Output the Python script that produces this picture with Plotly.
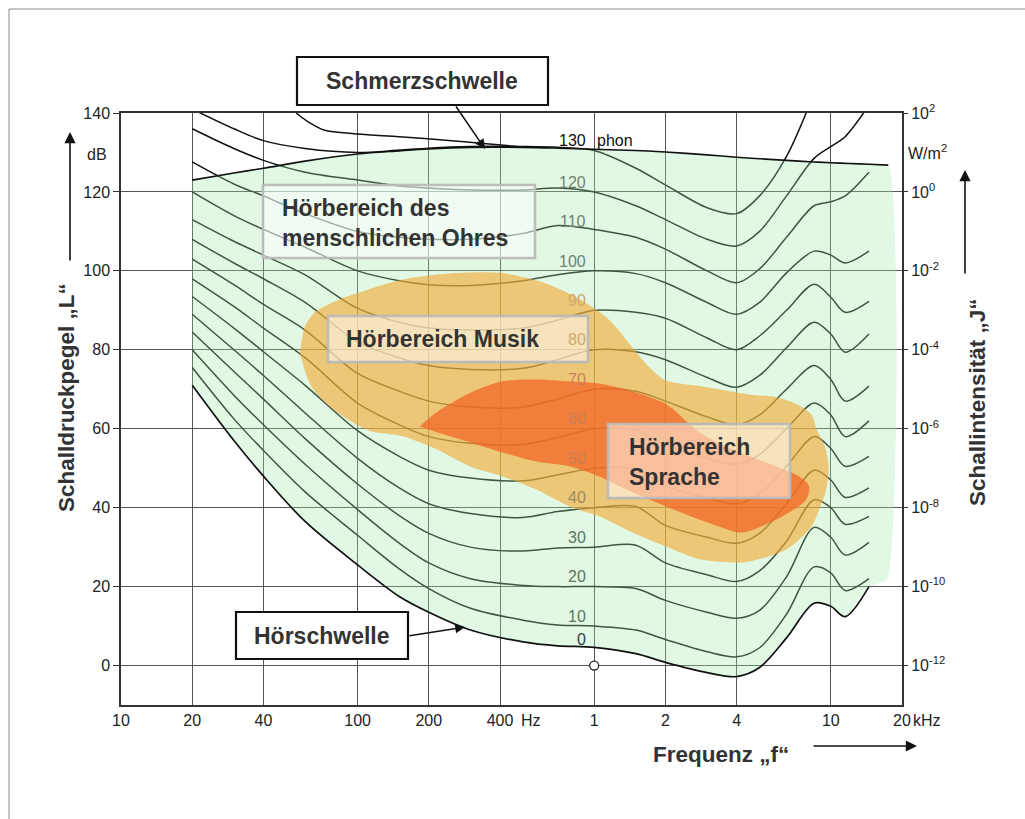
import plotly.graph_objects as go

# ---------------- data ----------------
freqs_hz = [20, 30, 40, 60, 100, 150, 200, 300, 500, 700, 1000, 1500, 2000,
            3000, 4000, 5000, 6500, 8500, 10000, 11500, 14500]

phon_0 = [71, 57, 48, 36.5, 25.5, 17.5, 13.5, 9, 6, 5, 4.6, 3, 0.8, -1.8, -2.8, -0.5, 7, 15.8, 15, 12.4, 20]
phon_10 = [75.5, 62.5, 54.5, 44, 33, 24.5, 19.5, 14.5, 11.5, 10.3, 10, 9, 6.6, 3.5, 2.2, 4.5, 13, 25, 23.5, 19, 22]
phon_20 = [80, 68.5, 61, 51, 39.5, 31, 26, 22, 20.3, 20, 20, 19.5, 16.5, 13.5, 12, 14, 22.5, 35, 32.5, 28, 31.2]
phon_30 = [84.5, 74.5, 67.5, 57.5, 46, 38, 33.5, 30, 29, 29.8, 30, 30.5, 26, 23, 21.3, 24, 31.5, 42, 40, 35.8, 37.8]
phon_40 = [89, 80, 73.5, 64, 52.5, 45, 41, 38.5, 37.5, 39, 40, 40.3, 35.5, 32.5, 31, 33.5, 41, 49.5, 47, 42.6, 45]
phon_50 = [93.5, 85.5, 79.5, 71, 59.5, 53, 49.5, 47.5, 46.8, 48.3, 50, 49.8, 45.5, 42.5, 41, 43.5, 50.5, 58, 55, 50.5, 53]
phon_60 = [98, 91, 85.5, 78, 66.5, 61, 58, 56.3, 56, 57.8, 60, 59.7, 56, 52.5, 51, 53.5, 60, 66.5, 63.5, 58, 62]
phon_70 = [103, 96.5, 91.5, 85, 74, 69.5, 67, 65.5, 65.5, 67.5, 70, 69.5, 67, 63, 61, 63.5, 70, 76, 72.5, 67, 70.8]
phon_80 = [108, 102, 98, 92, 82, 78, 76, 75, 75.3, 77.5, 80, 79.5, 77.5, 73, 70.5, 73.5, 80.5, 87, 84, 79.4, 84]
phon_90 = [113, 107.5, 104, 99, 90.5, 87, 85.5, 85, 85.5, 87.5, 90, 89.5, 88, 83, 80, 83.5, 90, 96.6, 93.3, 89.5, 92.3]
phon_100 = [120, 114, 110.5, 106, 100, 97.5, 96.5, 96.3, 97.5, 99, 100, 99.3, 97, 92, 89, 92, 99.5, 105, 104, 102, 105]
phon_110 = [127.6, 122, 119, 114.5, 110, 108.5, 108, 108, 109.5, 111.5, 110.5, 108.5, 105.5, 100, 97, 100.5, 108.5, 116.5, 117.5, 119, 125]
phon_120 = [136, 131, 128, 125, 123, 121.5, 121, 120.5, 120.5, 121, 120, 116.5, 113, 108, 106.3, 110, 119, 128.5, 131.5, 134, 142]
phon_130 = [141, 136, 133, 131, 130, 130.6, 131.1, 131.5, 131.5, 131.3, 130.5, 126, 121.8, 116, 114.5, 119, 129, 145, None, None, None]

upper_f = [55, 62, 72, 100, 150, 250, 350, 500]
upper_db = [140, 137.7, 135.7, 134.7, 134, 133, 132.2, 131.4]

pain_f = [20, 30, 40, 60, 100, 150, 200, 300, 500, 700, 1000, 1500, 2000, 3000,
          4000, 5000, 6500, 8500, 10000, 12000, 14500, 17500]
pain_db = [123, 124.8, 126, 127.8, 129.6, 130.4, 130.9, 131.3, 131.3, 131.1, 130.8,
           130.5, 130.1, 129.4, 128.8, 128.4, 128.0, 127.6, 127.4, 127.2, 127.0, 126.8]
region_edge_f = 17300
region_edge_bottom_db = 22

musik_f = [57, 60, 66, 76, 90, 105, 155, 250, 400, 600, 800, 1000, 1160, 1280, 1450,
           1710, 2000, 2800, 4500, 5900, 7300, 8300, 8700, 9500, 9800, 9600, 9000, 8300,
           6500, 5000, 4200, 2800, 2000, 1450, 1050, 785, 570, 410, 297, 216, 155, 112,
           90, 75, 64, 60]
musik_db = [79, 86, 89.5, 91.6, 93.5, 94.8, 97.8, 99.4, 99.5, 97.2, 94, 90.5, 87.5, 84.7,
            80.6, 75.6, 72.3, 70.8, 68.7, 68, 66, 63.5, 60, 55, 50.5, 45, 40, 35.3, 29.4,
            27, 26.1, 26.9, 30.2, 33.7, 37.8, 40.3, 44.6, 47.9, 50.5, 54.8, 58.1, 59.5,
            62.5, 66, 70.5, 74.5]

sprache_f = [183, 216, 297, 410, 570, 785, 1090, 1450, 2017, 2780, 3820, 5300, 7350,
             8100, 7880, 6250, 4500, 4100, 2780, 2017, 1450, 1050, 785, 570, 410, 297, 216]
sprache_db = [60.6, 64.2, 69, 72, 72.5, 72, 71.3, 69.5, 66.2, 59.1, 54.8, 51.5, 47.9,
              45.4, 42.1, 37.8, 34, 33.7, 37, 40.3, 43.9, 47.9, 50.5, 51.7, 54, 56.6, 59.1]

x_tick_vals = [10, 20, 40, 100, 200, 400, 1000, 2000, 4000, 10000, 20000]
x_tick_text = ["10", "20", "40", "100", "200", "400", "1", "2", "4", "10", "20"]
y_tick_vals = [0, 20, 40, 60, 80, 100, 120, 140]
y_tick_text = ["0", "20", "40", "60", "80", "100", "120", "140"]
intensity_text = ["10<sup>-12</sup>", "10<sup>-10</sup>", "10<sup>-8</sup>", "10<sup>-6</sup>",
                  "10<sup>-4</sup>", "10<sup>-2</sup>", "10<sup>0</sup>", "10<sup>2</sup>"]

contour_series = [phon_10, phon_20, phon_30, phon_40, phon_50, phon_60, phon_70,
                  phon_80, phon_90, phon_100, phon_110, phon_120, phon_130]
label_levels = [0, 10, 20, 30, 40, 50, 60, 70, 80, 90, 100, 110, 120]
label_colors = ["#3a3a3a", "#5d7560", "#5d7560", "#5d7560", "#9a8a60", "#c98058",
                "#c98058", "#c98058", "#cfa868", "#cfa868", "#728272", "#728272", "#728272"]

# ---------------- figure ----------------
W, H = 1025, 819
L, R, T, B = 121, 123, 113, 114
PW, PH = W - L - R, H - T - B


def px(xp):
    return (xp - L) / PW


def py(yp):
    return (H - B - yp) / PH


fig = go.Figure()

# contour lines (below the coloured overlays)
for series in contour_series:
    fig.add_trace(go.Scatter(x=freqs_hz, y=series, mode="lines",
                             line=dict(color="#111111", width=1.5, shape="spline", smoothing=0.9),
                             hoverinfo="skip", showlegend=False))
fig.add_trace(go.Scatter(x=upper_f, y=upper_db, mode="lines",
                         line=dict(color="#111111", width=1.5, shape="spline", smoothing=0.9),
                         hoverinfo="skip", showlegend=False))

# hearing area (semi transparent green)
region_x = pain_f + [region_edge_f] + freqs_hz[::-1]
region_y = pain_db + [region_edge_bottom_db] + phon_0[::-1]
fig.add_trace(go.Scatter(x=region_x, y=region_y, mode="lines", fill="toself",
                         fillcolor="rgba(160,232,172,0.32)",
                         line=dict(width=0, shape="spline", smoothing=0.5),
                         hoverinfo="skip", showlegend=False))
# music
fig.add_trace(go.Scatter(x=musik_f, y=musik_db, mode="lines", fill="toself",
                         fillcolor="rgba(244,170,52,0.62)",
                         line=dict(width=0, shape="spline", smoothing=0.8),
                         hoverinfo="skip", showlegend=False))
# speech
fig.add_trace(go.Scatter(x=sprache_f, y=sprache_db, mode="lines", fill="toself",
                         fillcolor="rgba(242,98,34,0.72)",
                         line=dict(width=0, shape="spline", smoothing=0.8),
                         hoverinfo="skip", showlegend=False))

# pain threshold and hearing threshold on top
fig.add_trace(go.Scatter(x=pain_f, y=pain_db, mode="lines",
                         line=dict(color="#111111", width=1.6, shape="spline", smoothing=0.9),
                         hoverinfo="skip", showlegend=False))
fig.add_trace(go.Scatter(x=freqs_hz, y=phon_0, mode="lines",
                         line=dict(color="#111111", width=1.7, shape="spline", smoothing=0.9),
                         hoverinfo="skip", showlegend=False))
# reference point 1 kHz / 0 dB
fig.add_trace(go.Scatter(x=[1000], y=[0], mode="markers",
                         marker=dict(symbol="circle", size=9, color="white",
                                     line=dict(color="#222222", width=1.3)),
                         hoverinfo="skip", showlegend=False))
# dummy trace for right axis
fig.add_trace(go.Scatter(x=[1000], y=[0], yaxis="y2", mode="markers",
                         marker=dict(opacity=0), hoverinfo="skip", showlegend=False))

tick_font = dict(family="Liberation Sans, Arial, sans-serif", size=16, color="#222222")
fig.update_layout(
    width=W, height=H, autosize=False,
    margin=dict(l=L, r=R, t=T, b=B),
    paper_bgcolor="white", plot_bgcolor="white",
    showlegend=False,
    xaxis=dict(type="log", range=[1, 4.30103], tickvals=x_tick_vals, ticktext=x_tick_text,
               showgrid=True, gridcolor="#555555", gridwidth=1, ticks="",
               showline=True, linecolor="#333333", linewidth=1.5, mirror=True,
               tickfont=tick_font, zeroline=False),
    yaxis=dict(range=[-10, 140], tickvals=y_tick_vals, ticktext=y_tick_text,
               showgrid=True, gridcolor="#555555", gridwidth=1,
               ticks="outside", ticklen=6, tickcolor="#333333",
               showline=True, linecolor="#333333", linewidth=1.5, mirror=True,
               tickfont=tick_font, zeroline=False),
    yaxis2=dict(range=[-10, 140], overlaying="y", side="right",
                tickvals=y_tick_vals, ticktext=intensity_text, showgrid=False,
                ticks="outside", ticklen=5, tickcolor="#333333",
                tickfont=tick_font, zeroline=False, showline=False),
)

shapes = []
# outer border (top and left)
shapes.append(dict(type="line", xref="paper", yref="paper", x0=px(9), x1=px(1025),
                   y0=py(9), y1=py(9), line=dict(color="#8a8a8a", width=1)))
shapes.append(dict(type="line", xref="paper", yref="paper", x0=px(9), x1=px(9),
                   y0=py(9), y1=py(819), line=dict(color="#8a8a8a", width=1)))
# semi transparent label boxes
for (x0, y0, x1, y1) in [(263, 185, 535, 258), (328, 316, 588, 362), (608, 424, 790, 498)]:
    shapes.append(dict(type="rect", xref="paper", yref="paper", layer="above",
                       x0=px(x0), x1=px(x1), y0=py(y1), y1=py(y0),
                       fillcolor="rgba(255,255,255,0.5)",
                       line=dict(color="rgba(185,185,185,0.95)", width=2.5)))
# framed boxes
for (x0, y0, x1, y1) in [(297, 57, 548, 105), (236, 612, 408, 659)]:
    shapes.append(dict(type="rect", xref="paper", yref="paper", layer="above",
                       x0=px(x0), x1=px(x1), y0=py(y1), y1=py(y0),
                       fillcolor="white", line=dict(color="#111111", width=2.2)))
fig.update_layout(shapes=shapes)

ann = []
box_font = dict(family="Liberation Sans, Arial, sans-serif", size=23, color="#333333")


def text_ann(x, y, text, font, xanchor="center", align="center", angle=0):
    return dict(xref="paper", yref="paper", x=px(x), y=py(y), showarrow=False,
                text=text, font=font, xanchor=xanchor, yanchor="middle",
                align=align, textangle=angle)


ann.append(text_ann(422, 81, "<b>Schmerzschwelle</b>", box_font))
ann.append(text_ann(322, 636, "<b>Hörschwelle</b>", box_font))
ann.append(text_ann(280, 223, "<b>Hörbereich des<br>menschlichen Ohres</b>", box_font,
                    xanchor="left", align="left"))
ann.append(text_ann(344, 339, "<b>Hörbereich Musik</b>", box_font, xanchor="left", align="left"))
ann.append(text_ann(627, 462, "<b>Hörbereich<br>Sprache</b>", box_font,
                    xanchor="left", align="left"))

# arrows of the framed boxes
ann.append(dict(xref="paper", yref="paper", x=px(485), y=py(149), ax=-30, ay=-44,
                text="", showarrow=True, arrowhead=2, arrowsize=1.3, arrowwidth=1.5,
                arrowcolor="#111111"))
ann.append(dict(xref="paper", yref="paper", x=px(465), y=py(627), ax=-57, ay=9,
                text="", showarrow=True, arrowhead=2, arrowsize=1.3, arrowwidth=1.5,
                arrowcolor="#111111"))

# axis titles and arrows
title_font = dict(family="Liberation Sans, Arial, sans-serif", size=22.5, color="#333333")
ann.append(text_ann(66, 398, "<b>Schalldruckpegel „L“</b>", title_font, angle=-90))
ann.append(text_ann(977, 402, "<b>Schallintensität „J“</b>", title_font, angle=-90))
ann.append(text_ann(721, 754, "<b>Frequenz „f“</b>", title_font))
ann.append(dict(xref="paper", yref="paper", x=px(70), y=py(132), ax=0, ay=130,
                text="", showarrow=True, arrowhead=2, arrowsize=1.4, arrowwidth=1.6,
                arrowcolor="#111111"))
ann.append(dict(xref="paper", yref="paper", x=px(965), y=py(170), ax=0, ay=105,
                text="", showarrow=True, arrowhead=2, arrowsize=1.4, arrowwidth=1.6,
                arrowcolor="#111111"))
ann.append(dict(xref="paper", yref="paper", x=px(917), y=py(746), ax=-105, ay=0,
                text="", showarrow=True, arrowhead=2, arrowsize=1.4, arrowwidth=1.6,
                arrowcolor="#111111"))

# unit labels
ann.append(text_ann(97, 154, "dB", tick_font))
ann.append(text_ann(927, 152, "W/m<sup>2</sup>", tick_font))
ann.append(text_ann(519, 720, "Hz", tick_font, xanchor="left"))
ann.append(text_ann(911, 720, "kHz", tick_font, xanchor="left"))

# phon labels next to 1 kHz
for lvl, col in zip(label_levels, label_colors):
    yv = (phon_0[10] + 2) if lvl == 0 else lvl + 2.5
    ann.append(dict(xref="x", yref="y", x=3, y=yv, showarrow=False, text=str(lvl),
                    xanchor="right", yanchor="middle", xshift=-6,
                    font=dict(family="Liberation Sans, Arial, sans-serif", size=16, color=col)))
ann.append(dict(xref="x", yref="y", x=3, y=133, showarrow=False, text="130",
                xanchor="right", yanchor="middle", xshift=-6,
                font=dict(family="Liberation Sans, Arial, sans-serif", size=16, color="#111111")))
ann.append(dict(xref="x", yref="y", x=3, y=133, showarrow=False, text="phon",
                xanchor="left", yanchor="middle", xshift=1,
                font=dict(family="Liberation Sans, Arial, sans-serif", size=16, color="#111111")))
fig.update_layout(annotations=ann)

fig.write_html("out.html", config={"displayModeBar": False},
               post_script="document.body.style.margin='0';")
